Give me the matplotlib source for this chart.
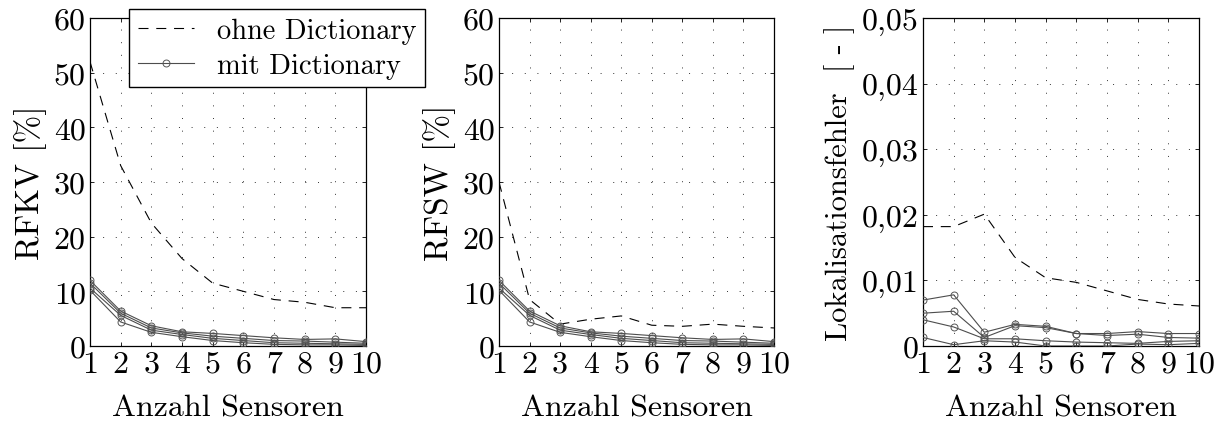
import matplotlib
matplotlib.use("Agg")
import matplotlib.pyplot as plt
import numpy as np

plt.rcParams['font.family'] = ['cmr10', 'DejaVu Serif']
plt.rcParams['mathtext.fontset'] = 'cm'
plt.rcParams['axes.formatter.use_mathtext'] = True
plt.rcParams['font.size'] = 22

# Data
sensors = np.arange(1, 11)

rfkv_ohne = [52, 33, 22.5, 16, 11.5, 10, 8.5, 8, 7, 7]
rfsw_ohne = [30, 8.5, 4.0, 4.9, 5.5, 3.8, 3.6, 4.0, 3.6, 3.3]
lok_ohne = [0.0182, 0.0182, 0.0201, 0.0135, 0.0104, 0.0097, 0.0084, 0.0071, 0.0064, 0.0061]

# mit Dictionary (several dictionary variants)
rf_mit = [
    [12.0, 6.4, 3.7, 2.6, 2.3, 1.9, 1.5, 1.2, 1.3, 0.8],
    [11.5, 6.0, 3.3, 2.4, 1.8, 1.4, 1.0, 0.9, 0.7, 0.5],
    [10.6, 5.6, 2.9, 2.1, 1.4, 1.0, 0.6, 0.5, 0.4, 0.3],
    [10.2, 4.4, 2.5, 1.7, 1.0, 0.6, 0.3, 0.2, 0.2, 0.1],
]
lok_mit = [
    [0.0070, 0.0078, 0.0021, 0.0033, 0.0030, 0.0019, 0.0019, 0.0022, 0.0019, 0.0019],
    [0.0050, 0.0053, 0.0013, 0.0031, 0.0028, 0.0019, 0.0016, 0.0018, 0.0013, 0.0012],
    [0.0040, 0.0029, 0.0011, 0.0011, 0.0008, 0.0006, 0.0005, 0.0004, 0.0007, 0.0008],
    [0.0013, 0.0002, 0.0008, 0.0006, 0.0000, 0.0000, 0.0000, 0.0003, 0.0002, 0.0004],
]

W, H = 1223, 427
fig = plt.figure(figsize=(W / 100, H / 100), dpi=100)

boxes = [(90, 276), (499, 275), (923, 276)]
axes = [fig.add_axes([l / W, (H - 347) / H, w / W, 328 / H]) for l, w in boxes]

panels = [
    (rfkv_ohne, rf_mit, 'RFKV [%]', 24, (0, 60), [0, 10, 20, 30, 40, 50, 60],
     ['0', '10', '20', '30', '40', '50', '60']),
    (rfsw_ohne, rf_mit, 'RFSW [%]', 24, (0, 60), [0, 10, 20, 30, 40, 50, 60],
     ['0', '10', '20', '30', '40', '50', '60']),
    (lok_ohne, lok_mit, 'Lokalisationsfehler  [ - ]', 22, (0, 0.05),
     [0, 0.01, 0.02, 0.03, 0.04, 0.05],
     ['0', '0,01', '0,02', '0,03', '0,04', '0,05']),
]

for ax, (ohne, mit, ylab, ysize, ylim, yt, ytl) in zip(axes, panels):
    l1, = ax.plot(sensors, ohne, color='black', lw=0.8, dashes=(9, 7),
                  label='ohne Dictionary', zorder=3)
    for s in mit:
        l2, = ax.plot(sensors, s, color='#4d4d4d', lw=0.8, marker='o', ms=5,
                      mfc='none', mec='#555555', mew=0.7, label='mit Dictionary', zorder=3)
    ax.set_xlim(1, 10)
    ax.set_ylim(*ylim)
    ax.set_xticks(sensors)
    ax.set_xticklabels([str(i) for i in sensors])
    ax.set_yticks(yt)
    ax.set_yticklabels(ytl)
    ax.tick_params(direction='in', top=True, right=True, length=3, width=0.6, pad=3,
                   labelsize=23)
    ax.grid(True, color='#333333', ls=(0, (1, 12)), lw=0.7)
    for sp in ax.spines.values():
        sp.set_linewidth(0.9)
    ax.set_xlabel('Anzahl Sensoren', labelpad=12, fontsize=23)
    ax.set_ylabel(ylab, labelpad=5, fontsize=ysize)

fig.legend([l1, l2], ['ohne Dictionary', 'mit Dictionary'], loc='upper left',
           bbox_to_anchor=(129 / W, 1 - 10 / H), borderaxespad=0, fontsize=20.5,
           fancybox=False, framealpha=1, edgecolor='black', numpoints=1,
           handlelength=2.0, borderpad=0.3, labelspacing=0.3, handletextpad=0.8)

fig.savefig('out.png', dpi=100)
